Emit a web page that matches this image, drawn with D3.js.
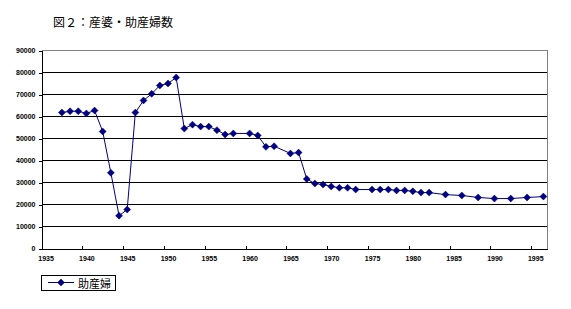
<!DOCTYPE html>
<html>
<head>
<meta charset="utf-8">
<script src="https://cdn.jsdelivr.net/npm/d3@7"></script>
<style>
  html, body { margin: 0; padding: 0; background: #fff; }
  svg { display: block; }
</style>
</head>
<body>
<script>
const titleText = "図２：産婆・助産婦数";
const seriesName = "助産婦";
const years = [1937,1938,1939,1940,1941,1942,1943,1944,1945,1946,1947,1948,1949,1950,1951,1952,1953,1954,1955,1956,1957,1958,1960,1961,1962,1963,1965,1966,1967,1968,1969,1970,1971,1972,1973,1975,1976,1977,1978,1979,1980,1981,1982,1984,1986,1988,1990,1992,1994,1996];
const midwives = [61800,62400,62400,61400,62700,53200,34400,14900,17700,61800,67300,70300,74100,75000,77700,54500,56300,55400,55400,53800,51800,52300,52300,51400,46200,46500,43200,43600,31600,29500,29100,28200,27600,27600,26800,26800,26800,26800,26400,26400,26000,25400,25400,24500,24100,23200,22700,22700,23200,23600];
const yTicks = [0,10000,20000,30000,40000,50000,60000,70000,80000,90000];
const xTicks = [1935,1940,1945,1950,1955,1960,1965,1970,1975,1980,1985,1990,1995];

const W = 571, H = 309;
const svg = d3.select("body").append("svg").attr("width", W).attr("height", H)
  .style("background", "#fff");

const x = d3.scaleLinear().domain([1935, 1997]).range([41.5, 547.5]);
const y = d3.scaleLinear().domain([0, 90000]).range([248.5, 50.5]);
const navy = "#000080";
const numFont = "'Liberation Sans', Arial, sans-serif";
const jpFont = "'Noto Sans CJK JP', sans-serif";

// title
svg.append("text").attr("x", 53).attr("y", 27)
  .attr("font-family", jpFont).attr("font-size", 12).attr("fill", "#000")
  .text(titleText);

// gridlines
svg.append("g").selectAll("line").data(yTicks.filter(d => d > 0 && d < 90000)).join("line")
  .attr("x1", x(1935)).attr("x2", x(1997))
  .attr("y1", d => y(d)).attr("y2", d => y(d))
  .attr("stroke", "#000").attr("stroke-width", 1).attr("shape-rendering", "crispEdges");

// plot border top/right (gray)
svg.append("path")
  .attr("d", `M${x(1935)},${y(90000)}H${x(1997)}V${y(0)}`)
  .attr("fill", "none").attr("stroke", "#808080").attr("stroke-width", 1)
  .attr("shape-rendering", "crispEdges");

// y axis
const yAxis = svg.append("g").attr("transform", `translate(${x(1935)},0)`)
  .call(d3.axisLeft(y).tickValues(yTicks).tickSizeInner(3).tickSizeOuter(0).tickPadding(3).tickFormat(d3.format("d")));
yAxis.select(".domain").attr("stroke", "#000").attr("shape-rendering", "crispEdges");
yAxis.selectAll(".tick line").attr("stroke", "#000").attr("shape-rendering", "crispEdges");
yAxis.selectAll("text").attr("font-family", numFont).attr("font-size", 7)
  .attr("font-weight", "bold").attr("fill", "#000");

// x axis
const halfYear = x(1935.5) - x(1935);
const xAxis = svg.append("g").attr("transform", `translate(0,${y(0)})`)
  .call(d3.axisBottom(x).tickValues(xTicks).tickSizeInner(-3).tickSizeOuter(0).tickFormat(d3.format("d")));
xAxis.select(".domain").attr("stroke", "#000").attr("shape-rendering", "crispEdges");
xAxis.selectAll(".tick line").attr("stroke", "#000").attr("shape-rendering", "crispEdges");
xAxis.selectAll("text").attr("font-family", numFont).attr("font-size", 7)
  .attr("font-weight", "bold").attr("fill", "#000")
  .attr("x", halfYear).attr("y", 8).attr("dy", "0.71em");

// series
const data = years.map((yr, i) => ({ yr, v: midwives[i] }));
const px = d => x(d.yr + 0.5);
svg.append("path").datum(data)
  .attr("d", d3.line().x(px).y(d => y(d.v)))
  .attr("fill", "none").attr("stroke", navy).attr("stroke-width", 1);

const diamond = "M0,-3.5L3.5,0L0,3.5L-3.5,0Z";
svg.append("g").selectAll("path").data(data).join("path")
  .attr("d", diamond)
  .attr("transform", d => `translate(${px(d)},${y(d.v)})`)
  .attr("fill", navy).attr("stroke", navy).attr("stroke-width", 0.5);

// legend
const lg = svg.append("g");
lg.append("rect").attr("x", 41.5).attr("y", 275.5).attr("width", 74).attr("height", 15)
  .attr("fill", "#fff").attr("stroke", "#000").attr("shape-rendering", "crispEdges");
lg.append("line").attr("x1", 48).attr("x2", 74).attr("y1", 282.5).attr("y2", 282.5)
  .attr("stroke", navy).attr("stroke-width", 1);
lg.append("path").attr("d", diamond).attr("transform", "translate(61,282.5)")
  .attr("fill", navy).attr("stroke", navy).attr("stroke-width", 0.5);
lg.append("text").attr("x", 78).attr("y", 287.5)
  .attr("font-family", jpFont).attr("font-size", 11).attr("fill", "#000")
  .text(seriesName);
</script>
</body>
</html>
